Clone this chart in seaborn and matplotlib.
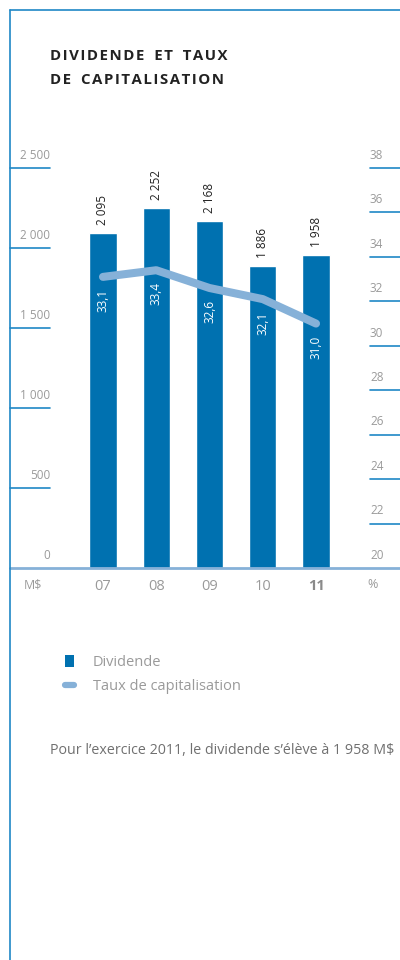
import numpy as np
import matplotlib
matplotlib.use("Agg")
import matplotlib.pyplot as plt
import seaborn as sns
from matplotlib.lines import Line2D
from matplotlib.patches import Patch

years = ["07", "08", "09", "10", "11"]
dividende = [2095, 2252, 2168, 1886, 1958]
taux = [33.1, 33.4, 32.6, 32.1, 31.0]
left_ticks = [0, 500, 1000, 1500, 2000, 2500]
right_ticks = [20, 22, 24, 26, 28, 30, 32, 34, 36, 38]

bar_color = "#0071b0"
line_color = "#86b1d8"
frame_color = "#1f88c6"
grey = "#9a9a9a"

sns.set_style("white")
plt.rcParams["font.family"] = ["Open Sans", "DejaVu Sans"]

fig = plt.figure(figsize=(4, 9.6), dpi=100)
ax = fig.add_axes([10 / 400, 392 / 960, 390 / 400, 400 / 960])

sns.barplot(x=years, y=dividende, color=bar_color, width=0.51, saturation=1, ax=ax)
ax.set_xlim(-1.746, 5.577)
ax.set_ylim(0, 2500)

ax2 = ax.twinx()
pos = np.arange(len(years))
sns.lineplot(x=pos, y=taux, ax=ax2, color=line_color, lw=5.8,
             solid_capstyle="round", solid_joinstyle="round")
ax2.set_ylim(20, 38)
ax.set_xlim(-1.746, 5.577)

for a in (ax, ax2):
    for s in a.spines.values():
        s.set_visible(False)
    a.set_yticks([])
    a.set_ylabel("")

# baseline
ax.axhline(0, color=line_color, lw=2, clip_on=False, zorder=5)

# left axis ticks
lt = ax.get_yaxis_transform()
for v in left_ticks:
    if v > 0:
        ax.plot([0, 0.1026], [v, v], transform=lt, color=frame_color, lw=1.2, clip_on=False)
    ax.text(0.1026, v + 40, f"{v:,}".replace(",", " "), transform=lt, ha="right", va="bottom",
            color=grey, fontsize=8.5)

# right axis ticks
rt = ax2.get_yaxis_transform()
for v in right_ticks:
    if v > 20:
        ax2.plot([0.923, 1.0], [v, v], transform=rt, color=frame_color, lw=1.2, clip_on=False)
    ax2.text(0.923, v + 0.28, str(v), transform=rt, ha="left", va="bottom",
             color=grey, fontsize=8.5)

# x labels
ax.set_xticks(pos)
ax.set_xticklabels(years)
ax.tick_params(axis="x", length=0, pad=8, labelsize=10.5, labelcolor=grey)
ax.get_xticklabels()[-1].set_fontweight("bold")
ax.get_xticklabels()[-1].set_color("#8a8a8a")
ax.set_xlabel("")
ax.text(23 / 390, -0.042, "M$", transform=ax.transAxes, ha="center", va="center",
        color=grey, fontsize=9)
ax.text(363 / 390, -0.042, "%", transform=ax.transAxes, ha="center", va="center",
        color=grey, fontsize=9)

# value labels
for i, v in enumerate(dividende):
    ax.text(i, v + 50, f"{v:,}".replace(",", " "), rotation=90, ha="center", va="bottom",
            fontsize=8.5, color="#222222")
for i, v in enumerate(taux):
    ax2.text(i, v - 0.55, f"{v:.1f}".replace(".", ","), rotation=90, ha="center", va="top",
             fontsize=8.5, color="white", zorder=6)

# frame lines
fig.add_artist(Line2D([10 / 400, 1], [1 - 10 / 960, 1 - 10 / 960], color=frame_color, lw=1.2))
fig.add_artist(Line2D([10 / 400, 10 / 400], [0, 1 - 10 / 960], color=frame_color, lw=1.2))


def spaced(s):
    return "\u2009 \u2009".join("\u200a".join(w) for w in s.split(" "))


# title
fig.text(50 / 400, 1 - 56 / 960, spaced("DIVIDENDE ET TAUX"),
         fontsize=10.8, fontweight="bold", color="#222222", va="center")
fig.text(50 / 400, 1 - 80 / 960, spaced("DE CAPITALISATION"),
         fontsize=10.8, fontweight="bold", color="#222222", va="center")

# legend
handles = [Patch(facecolor=bar_color, edgecolor="none"),
           Line2D([0], [0], color=line_color, lw=4.5, solid_capstyle="round")]
fig.legend(handles, ["Dividende", "Taux de capitalisation"], loc="upper left",
           bbox_to_anchor=(52 / 400, 1 - 642 / 960), frameon=False, fontsize=10.5,
           labelcolor=grey, handlelength=0.6, handleheight=0.8, labelspacing=0.6,
           handletextpad=1.3)

fig.text(50 / 400, 1 - 750 / 960, "Pour l\u2019exercice 2011, le dividende s\u2019\u00e9l\u00e8ve \u00e0 1 958 M$",
         fontsize=10.3, color="#707070", va="center")

fig.savefig("out.png", dpi=100)
